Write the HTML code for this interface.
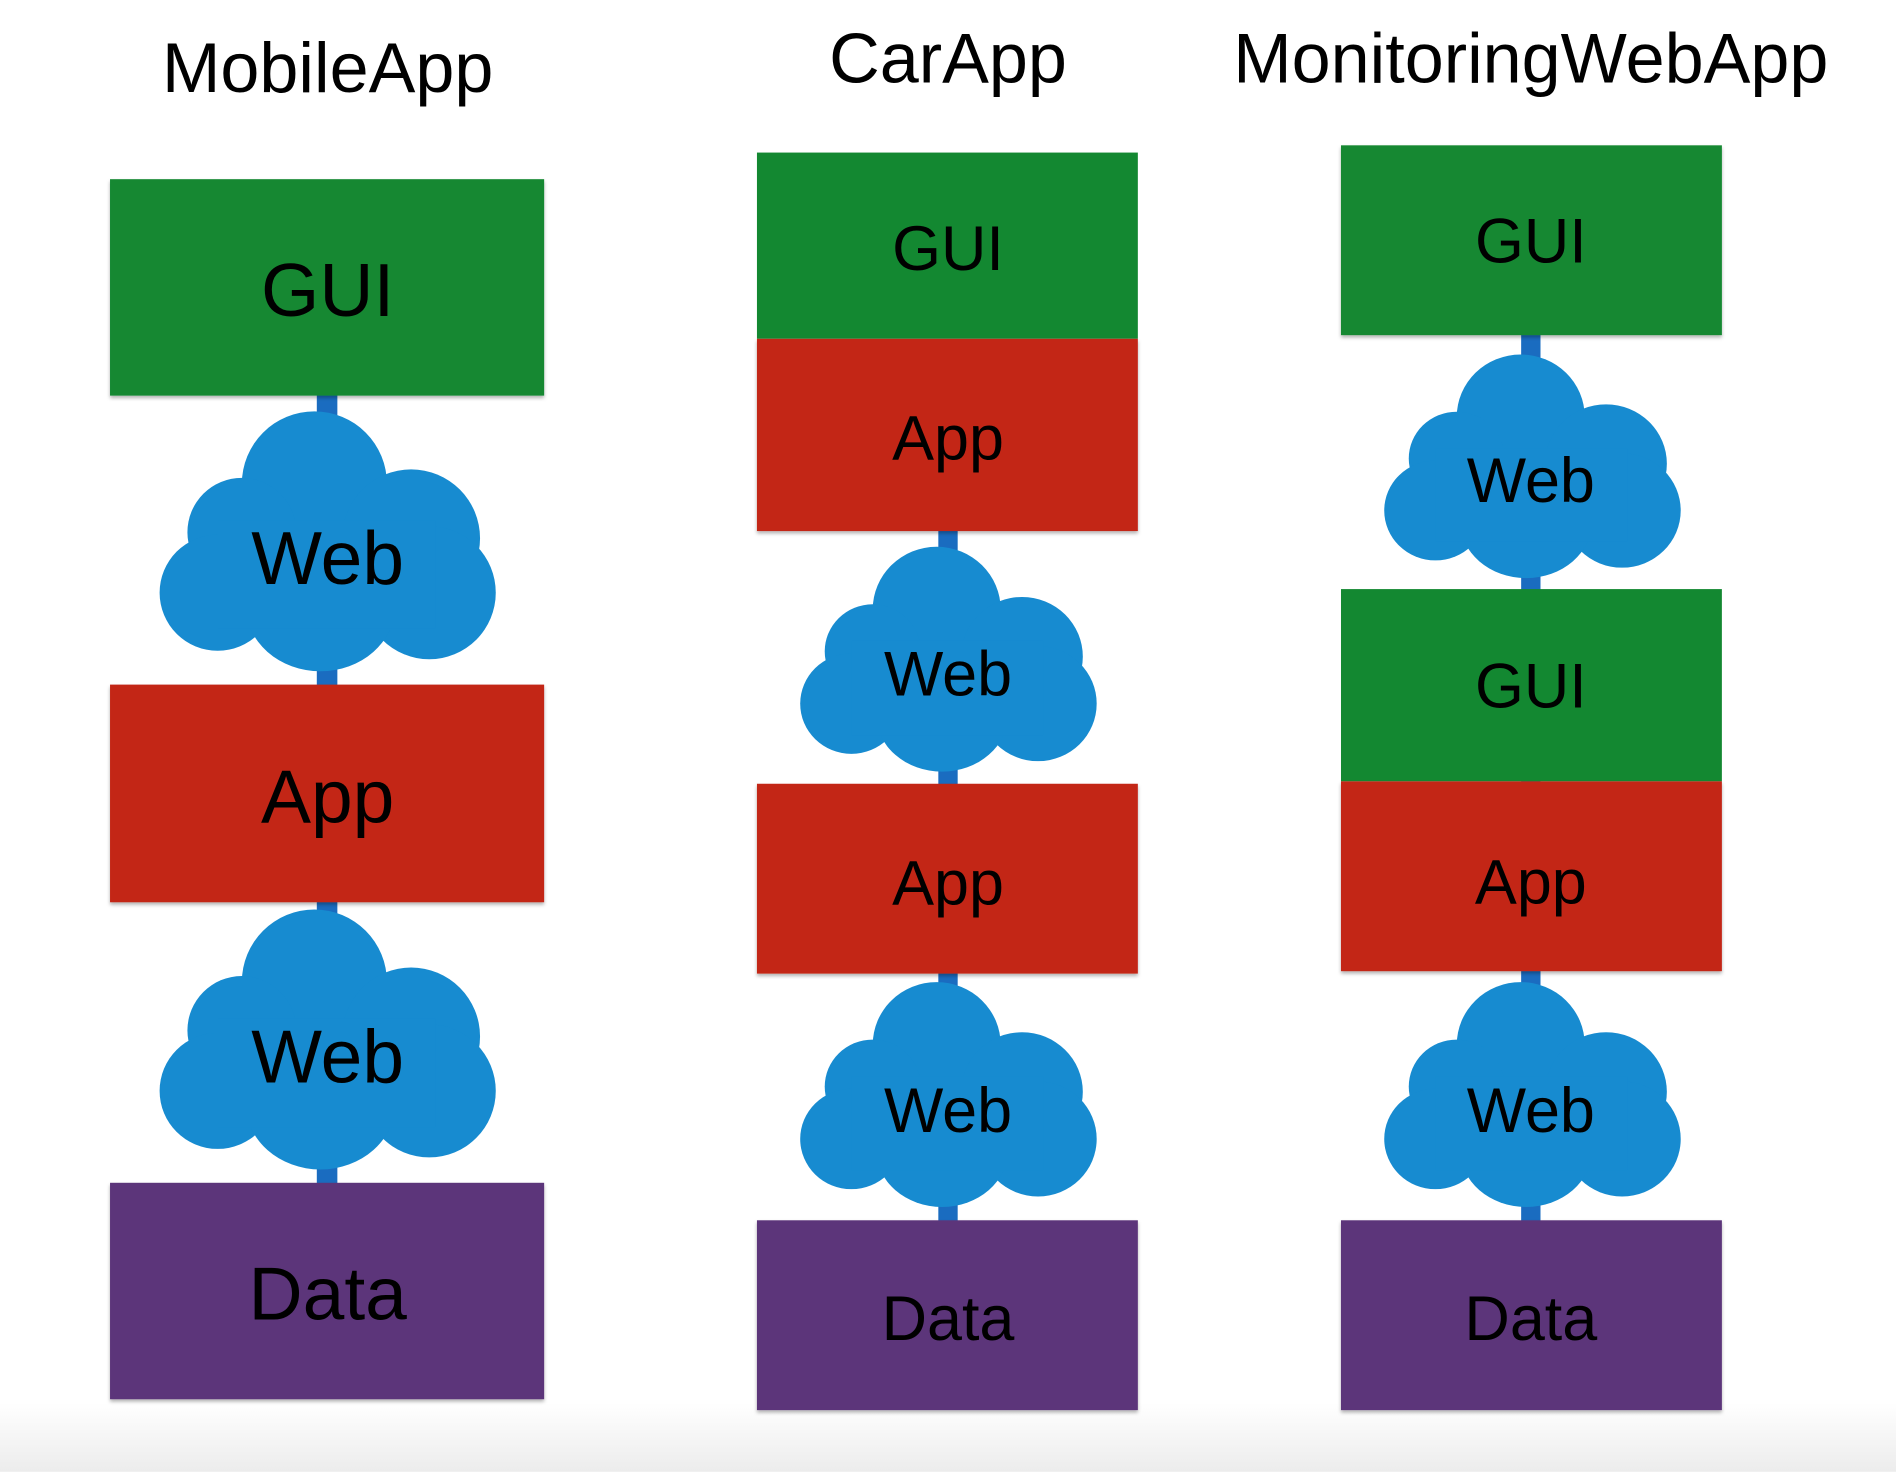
<!DOCTYPE html>
<html><head><meta charset="utf-8"><style>
html,body{margin:0;padding:0;background:#fff;}
svg{display:block;}
text{font-family:"Liberation Sans",sans-serif;fill:#000;text-anchor:middle;}
</style></head><body>
<svg width="1896" height="1472" viewBox="0 0 1568 1217" xmlns="http://www.w3.org/2000/svg">
<defs>
<linearGradient id="bg" x1="0" y1="0" x2="0" y2="1"><stop offset="0" stop-color="#fff"/><stop offset="1" stop-color="#ececec"/></linearGradient>
<filter id="sh" x="-5%" y="-5%" width="110%" height="115%"><feDropShadow dx="0" dy="2" stdDeviation="1.5" flood-color="#000" flood-opacity="0.3"/></filter>
<g id="cloud" fill="#178bd0">
<circle cx="130" cy="60" r="60"/><circle cx="210" cy="105" r="57"/><circle cx="70" cy="100" r="45"/>
<circle cx="50" cy="150" r="48"/><circle cx="225" cy="150" r="55"/><ellipse cx="135" cy="160" rx="62" ry="55"/>
<rect x="50" y="90" width="180" height="90"/>
</g>
</defs>
<rect x="0" y="1160" width="1568" height="57" fill="url(#bg)"/>
<text x="271" y="76" font-size="58">MobileApp</text>
<text x="784" y="68" font-size="58">CarApp</text>
<text x="1266" y="68" font-size="58">MonitoringWebApp</text>
<!-- connectors -->
<rect x="262" y="320" width="17" height="665" fill="#1a6cc0"/>
<rect x="776" y="430" width="16" height="585" fill="#1a6cc0"/>
<rect x="1258" y="270" width="16" height="745" fill="#1a6cc0"/>
<!-- Mobile -->
<rect x="91" y="148" width="359" height="179" fill="#138831" filter="url(#sh)"/>
<use href="#cloud" transform="translate(130,340)"/>
<rect x="91" y="566" width="359" height="180" fill="#c32719" filter="url(#sh)"/>
<use href="#cloud" transform="translate(130,752)"/>
<rect x="91" y="978" width="359" height="179" fill="#5c357a" filter="url(#sh)"/>
<text x="271" y="261" font-size="62">GUI</text>
<text x="271" y="483" font-size="62">Web</text>
<text x="271" y="680" font-size="62">App</text>
<text x="271" y="895" font-size="62">Web</text>
<text x="271" y="1091" font-size="62">Data</text>
<!-- Car -->
<rect x="626" y="126" width="315" height="154" fill="#138831"/>
<rect x="626" y="280" width="315" height="159" fill="#c32719" filter="url(#sh)"/>
<use href="#cloud" transform="translate(660,452) scale(0.882,0.865)"/>
<rect x="626" y="648" width="315" height="157" fill="#c32719" filter="url(#sh)"/>
<use href="#cloud" transform="translate(660,812) scale(0.882,0.865)"/>
<rect x="626" y="1009" width="315" height="157" fill="#5c357a" filter="url(#sh)"/>
<text x="784" y="223" font-size="52">GUI</text>
<text x="784" y="380" font-size="52">App</text>
<text x="784" y="575" font-size="52">Web</text>
<text x="784" y="748" font-size="52">App</text>
<text x="784" y="936" font-size="52">Web</text>
<text x="784" y="1108" font-size="52">Data</text>
<!-- Monitoring -->
<rect x="1109" y="120" width="315" height="157" fill="#138831" filter="url(#sh)"/>
<use href="#cloud" transform="translate(1143,293) scale(0.882,0.86)"/>
<rect x="1109" y="487" width="315" height="159" fill="#138831"/>
<rect x="1109" y="646" width="315" height="157" fill="#c32719" filter="url(#sh)"/>
<use href="#cloud" transform="translate(1143,812) scale(0.882,0.865)"/>
<rect x="1109" y="1009" width="315" height="157" fill="#5c357a" filter="url(#sh)"/>
<text x="1266" y="217" font-size="52">GUI</text>
<text x="1266" y="415" font-size="52">Web</text>
<text x="1266" y="585" font-size="52">GUI</text>
<text x="1266" y="747" font-size="52">App</text>
<text x="1266" y="936" font-size="52">Web</text>
<text x="1266" y="1108" font-size="52">Data</text>
</svg>
</body></html>
